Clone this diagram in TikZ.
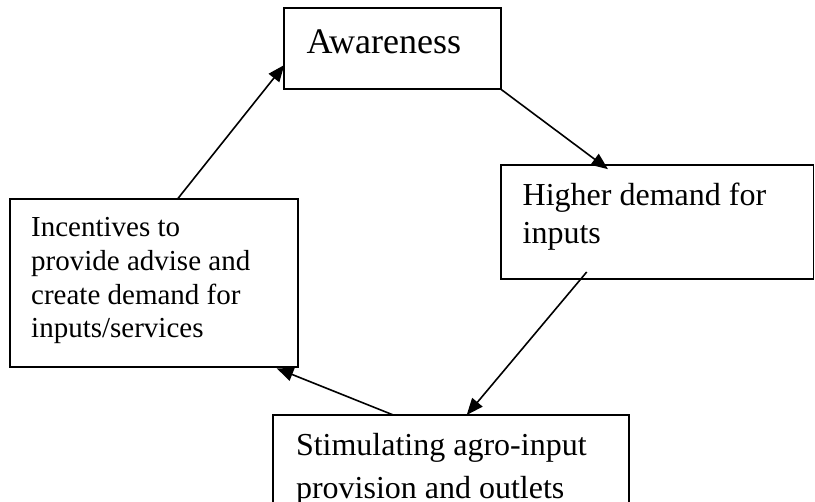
\documentclass[tikz,border=0pt]{standalone}
\usepackage{fontspec}
\setmainfont{Liberation Serif}
\usetikzlibrary{arrows.meta,calc}
\begin{document}
\begin{tikzpicture}[x=0.75pt,y=-0.75pt,
  box/.style={draw,line width=1.4pt,rectangle,inner sep=0pt,outer sep=0pt,anchor=north west},
  txt/.style={anchor=base west,inner sep=0pt,outer sep=0pt},
  big/.style={font=\fontsize{27}{32}\selectfont},
  mid/.style={font=\fontsize{24}{28}\selectfont},
  small/.style={font=\fontsize{21.75}{25}\selectfont},
  flow/.style={line width=1.2pt,-{Triangle[length=12.5pt,width=10pt]}}]
\useasboundingbox (0,0) rectangle (815,502);
\clip (0,0) rectangle (815,502);

% boxes
\node[box,minimum width=162.5pt,minimum height=60.75pt] (aw) at (284.3,8.3) {};
\node[box,minimum width=234.4pt,minimum height=85.5pt] (hd) at (501,164.6) {};
\node[box,minimum width=216.2pt,minimum height=125.55pt] (inc) at (10,199.3) {};
\node[box,minimum width=266.55pt,minimum height=93.75pt] (st) at (273.3,415) {};

% labels
\node[txt,big] (aw1) at (306.5,53.3) {Awareness};

\node[txt,mid] (hd1) at (522.7,205.7) {Higher demand for};
\node[txt,mid] (hd2) at (522.7,243.3) {inputs};

\node[txt,small] (inc1) at (31.2,236.7) {Incentives to};
\node[txt,small] (inc2) at (31.2,270.4) {provide advise and};
\node[txt,small] (inc3) at (31.2,304.1) {create demand for};
\node[txt,small] (inc4) at (31.2,337.8) {inputs/services};

\node[txt,mid] (st1) at (296,456) {Stimulating agro-input};
\node[txt,mid] (st2) at (296,498.5) {provision and outlets};

% cycle of arrows
\draw[flow] ($(inc.north west)+(167.3,0)$) -- ($(aw.south west)+(0,-24.3)$);
\draw[flow] (aw.south east) -- ($(hd.north west)+(107,4.6)$);
\draw[flow] ($(hd.south west)+(85.7,-6.6)$) -- ($(st.north west)+(193.4,0)$);
\draw[flow] ($(st.north west)+(120,0)$) -- ($(inc.south east)+(-21.6,1.6)$);
\end{tikzpicture}
\end{document}
